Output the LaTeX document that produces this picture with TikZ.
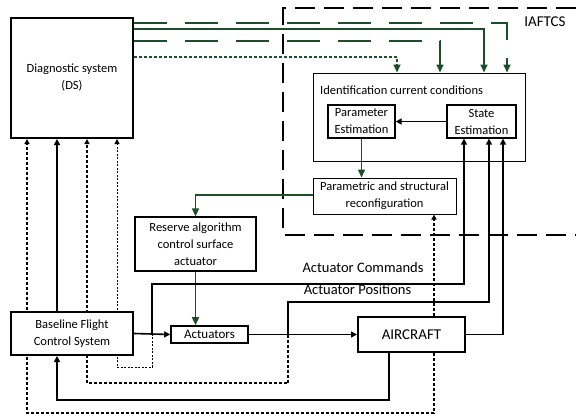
\documentclass[tikz,border=0pt]{standalone}
\usepackage{fontspec}
\setmainfont{Carlito}
\usetikzlibrary{arrows.meta}
\definecolor{dg}{RGB}{28,78,40}
\pgfdeclarelayer{background}
\pgfsetlayers{background,main}
\begin{document}
\begin{tikzpicture}[x=1pt,y=-1pt,
  box/.style={draw=black,fill=white,rectangle,inner sep=0pt,align=center,font=\fontsize{12.5}{17}\selectfont},
  con/.style={line width=1.6pt,-{Triangle[length=6pt,width=6pt]}},
  gcon/.style={draw=dg,line width=1.6pt,-{Triangle[length=8pt,width=7pt]}},
  gdash/.style={gcon,dash pattern=on 33pt off 18pt},
  gdot/.style={gcon,dash pattern=on 3pt off 2pt},
  tdot/.style={line width=1.6pt,dash pattern=on 3pt off 2pt},
  thindot/.style={line width=1pt,dash pattern=on 2pt off 1.5pt},
  frame/.style={line width=2pt,dash pattern=on 20pt off 9pt},
  lbl/.style={inner sep=0pt}
]
\useasboundingbox (0,0) rectangle (576,416);

\node[lbl,font=\fontsize{15}{18}\selectfont] (iaftcs) at (545,22) {IAFTCS};

% boxes
\node[box,line width=2pt,minimum width=122pt,minimum height=120pt] (ds) at (72,78) {Diagnostic system\\(DS)};
\node[box,fill=none,line width=1pt,minimum width=212pt,minimum height=88pt] (ident) at (419,117) {};
\node[lbl,anchor=west,font=\fontsize{12.5}{17}\selectfont] (identlbl) at (320,90) {Identification current conditions};
\node[box,line width=1.3pt,minimum width=67pt,minimum height=33pt] (param) at (361.5,121.5) {Parameter\\Estimation};
\node[box,line width=1.3pt,minimum width=69pt,minimum height=33pt] (state) at (481.5,121.5) {State\\Estimation};
\node[box,line width=1pt,minimum width=143pt,minimum height=36pt] (reconf) at (384.5,196) {Parametric and structural\\reconfiguration};
\node[box,line width=1.2pt,minimum width=121pt,minimum height=54pt] (reserve) at (195.5,244) {Reserve algorithm\\control surface\\actuator};
\node[box,line width=1.6pt,minimum width=77pt,minimum height=17pt,font=\fontsize{13}{15}\selectfont] (act) at (209.5,334.5) {Actuators};
\node[box,line width=2pt,minimum width=122pt,minimum height=43pt] (base) at (72,333.5) {Baseline Flight\\Control System};
\node[box,line width=2pt,minimum width=107pt,minimum height=35pt,font=\fontsize{15}{18}\selectfont] (air) at (411.5,334.5) {AIRCRAFT};

% labels
\node[lbl,font=\fontsize{14.5}{17}\selectfont] (cmdlbl) at (363,268) {Actuator Commands};
\node[lbl,font=\fontsize{14.5}{17}\selectfont] (poslbl) at (357.5,290) {Actuator Positions};

\begin{pgfonlayer}{background}
% IAFTCS frame
\draw[frame] (576,8) -- (283,8) -- (283,235) -- (576,235);

% green connectors from DS
\draw[gdash] (ds.east |- 0,23) -| (ident.north -| 507,0);
\draw[gcon] (ds.east |- 0,29) -| (ident.north -| 484,0);
\draw[gdash] (ds.east |- 0,41) -| (ident.north -| 440,0);
\draw[gdot] (ds.east |- 0,57) -| (ident.north -| 397,0);
\draw[gcon] (param.south) -- (reconf.north -| param.south);
\draw[gcon] (reconf.west |- 0,195) -| (reserve.north);
\draw[gcon] (reserve.south) -- (act.north -| reserve.south);

% black connectors
\draw[con] (state.west) -- (param.east);
\draw[con] (base.east) -- (act.west);
\draw[con] (act.east) -- (air.west);
\draw[con] (air.east) -| (state.south -| 503,0);
\draw[con] (base.east -| 152,0) |- (464,284) -- (state.south -| 464,0);
\draw[thindot,-{Triangle[length=5pt,width=5pt]}] (base.east -| 152,0) -- (152,367) -| (ds.south -| 117,0);
\draw[con] (act.east -| 288,0) |- (489,302) -- (state.south -| 489,0);
\draw[tdot,-{Triangle[length=5pt,width=5pt]}] (act.east -| 288,0) -- (288,383) -| (ds.south -| 87,0);
\draw[con] (base.north -| 57,0) -- (ds.south -| 57,0);
\draw[con] (air.south -| 389,0) |- (57,400) -- (base.south -| 57,0);
\draw[tdot,-{Triangle[length=5pt,width=5pt]}] (air.south -| 434,0) |- (27,413) -- (ds.south -| 27,0);
\draw[tdot,-{Triangle[length=5pt,width=5pt]}] (air.north -| 434,0) -- (reconf.south -| 434,0);
\end{pgfonlayer}
\end{tikzpicture}
\end{document}
